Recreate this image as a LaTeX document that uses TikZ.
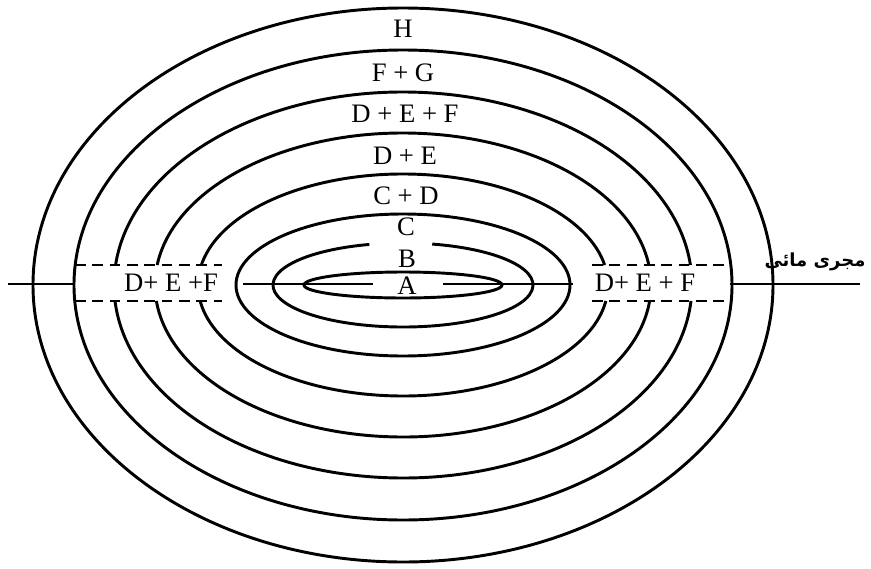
\documentclass[tikz,border=0pt]{standalone}
\usepackage{fontspec}
\setmainfont{Liberation Serif}
\newfontfamily\arabicfont[Script=Arabic]{DejaVu Sans}
\TeXXeTstate=1
\usetikzlibrary{calc}

\begin{document}
\begin{tikzpicture}[x=0.75pt, y=-0.75pt,
    ring/.style={line width=2.2pt},
    seam/.style={line width=1.3pt, dash pattern=on 8pt off 5pt},
    every node/.style={font=\fontsize{20}{22}\selectfont, inner sep=0pt}]
  \useasboundingbox (0,0) rectangle (871,568);
  \coordinate (o) at (403,285);
  % closed rings
  \foreach \rx/\ry in {99/13, 167/71, 329/235, 370/277}
    \draw[ring] (o) ellipse[x radius=\rx, y radius=\ry];
  % ring B, open under C
  \draw[ring] (o) ++({130*cos(283)},{42*sin(283)})
    arc[start angle=283, end angle=615, x radius=130, y radius=42];
  % rings cut by the dashed band
  \foreach \rx/\ry in {205/111, 248/152, 289/193} {
    \pgfmathsetmacro\ta{180+asin(20/\ry)}
    \pgfmathsetmacro\tc{360-asin(20/\ry)}
    \pgfmathsetmacro\tb{asin(16/\ry)}
    \pgfmathsetmacro\td{180-asin(16/\ry)}
    \draw[ring] (o) ++({\rx*cos(\ta)},{\ry*sin(\ta)})
      arc[start angle=\ta, end angle=\tc, x radius=\rx, y radius=\ry];
    \draw[ring] (o) ++({\rx*cos(\tb)},{\ry*sin(\tb)})
      arc[start angle=\tb, end angle=\td, x radius=\rx, y radius=\ry];
  }
  % axis
  \draw[ring] (8,284) -- (73,284) (243,284) -- (373,284)
    (443,284) -- (573,284) (730,284) -- (860,284);
  % dashed band
  \draw[seam] (75,265) -- (222,265) (75,301) -- (222,301);
  \draw[seam] (592,265) -- (728,265) (592,301) -- (728,301);
  % labels
  \node (h) at (403,29) {H};
  \node (fg) at (403,73) {F + G};
  \node (def) at (405,114) {D + E + F};
  \node (de) at (405,156) {D + E};
  \node (cd) at (406,196) {C + D};
  \node (c) at (406,227) {C};
  \node (b) at (407,259) {B};
  \node (a) at (407,286) {A};
  \node (defl) at (171,283) {D+ E +F};
  \node (defr) at (645,283) {D+ E + F};
  \node[font=\arabicfont\bfseries\fontsize{13.5}{15}\selectfont] (duct) at (815,262)
    {\beginR مجری مائی\endR};
\end{tikzpicture}
\end{document}
